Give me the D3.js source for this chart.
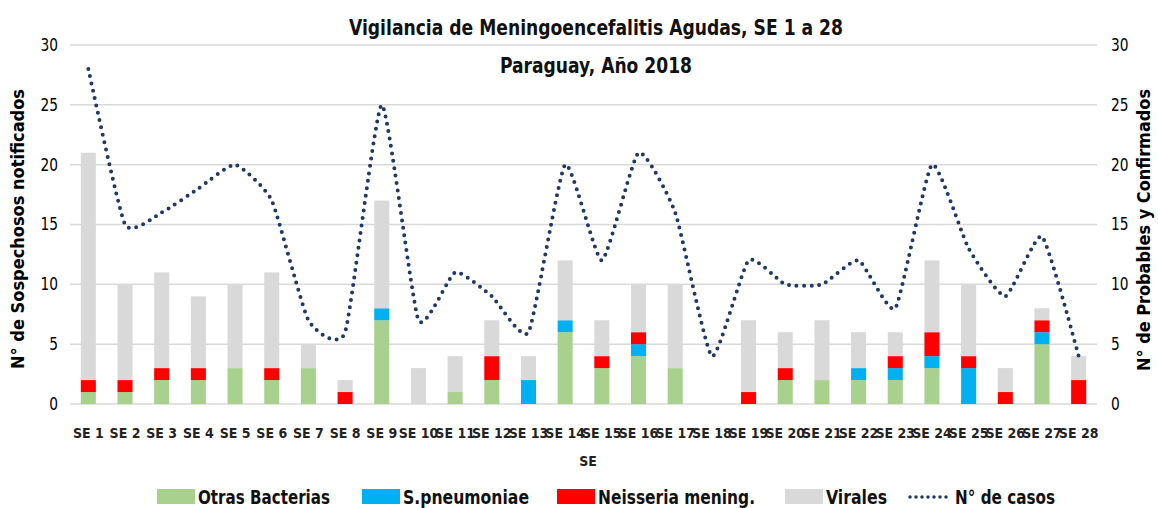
<!DOCTYPE html>
<html>
<head>
<meta charset="utf-8">
<script src="https://cdn.jsdelivr.net/npm/d3@7"></script>
<style>
  body { margin: 0; background: #fff; }
  text { font-family: "Liberation Sans Narrow", "DejaVu Sans Condensed", sans-serif; }
</style>
</head>
<body>
<script>
const weeks = d3.range(1, 29).map(i => "SE " + i)
const otras = [1,1,2,2,3,2,3,0,7,0,1,2,0,6,3,4,3,0,0,2,2,2,2,3,0,0,5,0]
const spneumo = [0,0,0,0,0,0,0,0,1,0,0,0,2,1,0,1,0,0,0,0,0,1,1,1,3,0,1,0]
const neisseria = [1,1,1,1,0,1,0,1,0,0,0,2,0,0,1,1,0,0,1,1,0,0,1,2,1,1,1,2]
const virales = [19,8,8,6,7,8,2,1,9,3,3,3,2,5,3,4,7,0,6,3,5,3,2,6,6,2,1,2]
const casos = [28,15,16,18,20,17,7,6,25,7,11,9,6,20,12,21,16,4,12,10,10,12,8,20,13,9,14,4]
const yTicks = [0, 5, 10, 15, 20, 25, 30]

const seriesKeys = ["otras", "spneumo", "neisseria", "virales"]
const seriesNames = ["Otras Bacterias", "S.pneumoniae", "Neisseria mening.", "Virales"]
const colors = ["#A9D18E", "#00B0F0", "#FF0000", "#D9D9D9"]

const width = 1158, height = 508
const margin = {top: 45, right: 61, bottom: 104, left: 70}
const font = '"Liberation Sans Narrow", "DejaVu Sans Condensed", sans-serif'

const table = weeks.map((w, i) => ({
  week: w, otras: otras[i], spneumo: spneumo[i], neisseria: neisseria[i], virales: virales[i], casos: casos[i]
}))

const svg = d3.select("body").append("svg")
    .attr("width", width)
    .attr("height", height)

const x = d3.scaleBand()
    .domain(weeks)
    .range([margin.left, width - margin.right])
    .paddingInner(0.59)
    .paddingOuter(0.295)

const y = d3.scaleLinear()
    .domain([0, 30])
    .range([height - margin.bottom, margin.top])

const y2 = d3.scaleLinear()
    .domain([0, 30])
    .range([height - margin.bottom, margin.top])

// grid
svg.append("g").selectAll("line")
  .data(yTicks)
  .join("line")
    .attr("x1", margin.left)
    .attr("x2", width - margin.right)
    .attr("y1", d => y(d))
    .attr("y2", d => y(d))
    .attr("stroke", "#d9d9d9")
    .attr("stroke-width", 1.5)

// left axis
const left = svg.append("g")
    .attr("transform", `translate(${margin.left - 12},0)`)
    .call(d3.axisLeft(y).tickValues(yTicks).tickSize(0).tickPadding(0))
left.select(".domain").remove()
left.selectAll("text")
    .attr("font-size", 17)
    .attr("fill", "#000")
    .style("font-family", font)
    .attr("transform", "scale(0.9,1)")

// right axis
const right = svg.append("g")
    .attr("transform", `translate(${width - margin.right + 14},0)`)
    .call(d3.axisRight(y2).tickValues(yTicks).tickSize(0).tickPadding(0))
right.select(".domain").remove()
right.selectAll("text")
    .attr("font-size", 17)
    .attr("fill", "#000")
    .style("font-family", font)
    .attr("transform", "scale(0.9,1)")

// bottom axis labels
const bottom = svg.append("g")
    .attr("transform", `translate(0,${height - margin.bottom})`)
    .call(d3.axisBottom(x).tickSize(0).tickPadding(24))
bottom.select(".domain").remove()
bottom.selectAll("text")
    .attr("font-size", 14)
    .attr("font-weight", "bold")
    .attr("fill", "#222")
    .style("font-family", font)

// stacked bars
const stacked = d3.stack().keys(seriesKeys)(table)

svg.append("g").selectAll("g")
  .data(stacked)
  .join("g")
    .attr("fill", (d, i) => colors[i])
  .selectAll("rect")
  .data(d => d)
  .join("rect")
    .attr("x", d => x(d.data.week))
    .attr("y", d => y(d[1]))
    .attr("width", x.bandwidth())
    .attr("height", d => y(d[0]) - y(d[1]))

// line of casos
const line = d3.line()
    .x(d => x(d.week) + x.bandwidth() / 2)
    .y(d => y2(d.casos))
    .curve(d3.curveCardinal.tension(0.5))

svg.append("path")
    .datum(table)
    .attr("fill", "none")
    .attr("stroke", "#203864")
    .attr("stroke-width", 4)
    .attr("stroke-linecap", "round")
    .attr("stroke-dasharray", "0 7.5")
    .attr("d", line)

// titles
function squeezed(sel, len) {
  return sel.attr("textLength", len).attr("lengthAdjust", "spacingAndGlyphs")
}

squeezed(svg.append("text")
    .attr("x", 596).attr("y", 35)
    .attr("text-anchor", "middle")
    .attr("font-size", 22).attr("font-weight", "bold")
    .attr("fill", "#111")
    .text("Vigilancia de Meningoencefalitis Agudas, SE 1 a 28"), 494)

squeezed(svg.append("text")
    .attr("x", 596).attr("y", 73)
    .attr("text-anchor", "middle")
    .attr("font-size", 22).attr("font-weight", "bold")
    .attr("fill", "#111")
    .text("Paraguay, Año 2018"), 192)

svg.append("text")
    .attr("x", 588).attr("y", 466)
    .attr("text-anchor", "middle")
    .attr("font-size", 14).attr("font-weight", "bold")
    .attr("fill", "#222")
    .text("SE")

squeezed(svg.append("text")
    .attr("transform", "translate(24,229) rotate(-90)")
    .attr("text-anchor", "middle")
    .attr("font-size", 17).attr("font-weight", "bold")
    .attr("fill", "#000")
    .text("N° de Sospechosos notificados"), 280)

squeezed(svg.append("text")
    .attr("transform", "translate(1150,230) rotate(-90)")
    .attr("text-anchor", "middle")
    .attr("font-size", 17).attr("font-weight", "bold")
    .attr("fill", "#000")
    .text("N° de Probables y Confirmados"), 282)

// legend
const legendX = [157, 362, 557, 785]
const legendW = [132, 126, 157, 61]
const legend = svg.append("g")
seriesNames.forEach((name, i) => {
  legend.append("rect")
      .attr("x", legendX[i]).attr("y", 489)
      .attr("width", 38).attr("height", 15)
      .attr("fill", colors[i])
  squeezed(legend.append("text")
      .attr("x", legendX[i] + 41).attr("y", 504)
      .attr("font-size", 19).attr("font-weight", "bold")
      .attr("fill", "#111")
      .text(name), legendW[i])
})
legend.append("line")
    .attr("x1", 910).attr("x2", 950)
    .attr("y1", 497).attr("y2", 497)
    .attr("stroke", "#203864")
    .attr("stroke-width", 3.5)
    .attr("stroke-linecap", "round")
    .attr("stroke-dasharray", "0 6")
squeezed(legend.append("text")
    .attr("x", 955).attr("y", 504)
    .attr("font-size", 19).attr("font-weight", "bold")
    .attr("fill", "#111")
    .text("N° de casos"), 100)
</script>
</body>
</html>
